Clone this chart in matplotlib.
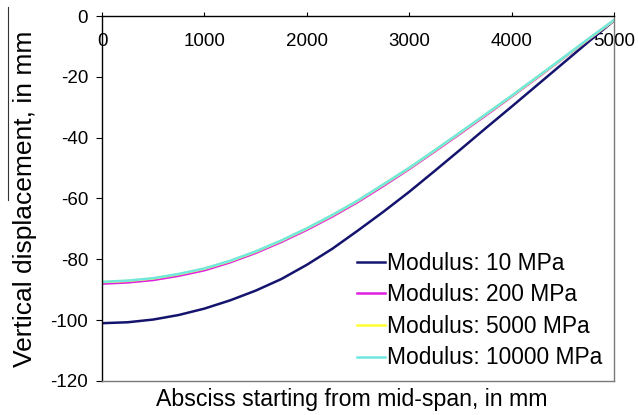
import matplotlib
matplotlib.use("Agg")
import matplotlib.pyplot as plt
from matplotlib.lines import Line2D

plt.rcParams["font.family"] = ["Liberation Sans", "DejaVu Sans"]

# abscissa from mid-span, mm
x_mm = [0, 250, 500, 750, 1000, 1250, 1500, 1750, 2000, 2250, 2500,
        2750, 3000, 3250, 3500, 3750, 4000, 4250, 4500, 4750, 5000]

# vertical displacement, mm
disp_10 = [-101.0, -100.7, -99.8, -98.3, -96.2, -93.5, -90.3, -86.5, -81.8, -76.5, -70.5,
           -64.3, -57.8, -50.9, -43.9, -36.8, -29.8, -22.7, -15.6, -8.5, -1.5]
disp_200 = [-88.0, -87.6, -86.8, -85.4, -83.6, -81.0, -77.9, -74.3, -70.3, -65.9, -61.1,
            -55.8, -50.3, -44.5, -38.6, -32.6, -26.5, -20.3, -14.0, -7.7, -1.5]
disp_5000 = [-87.5, -87.1, -86.3, -84.9, -83.1, -80.6, -77.5, -73.9, -69.9, -65.5, -60.7,
             -55.4, -50.0, -44.2, -38.3, -32.3, -26.3, -20.1, -13.9, -7.6, -1.4]
disp_10000 = [-87.4, -87.0, -86.2, -84.8, -83.0, -80.5, -77.4, -73.8, -69.8, -65.4, -60.6,
              -55.3, -49.9, -44.1, -38.2, -32.2, -26.2, -20.0, -13.8, -7.5, -1.3]

labels = ["Modulus: 10 MPa", "Modulus: 200 MPa", "Modulus: 5000 MPa", "Modulus: 10000 MPa"]
colors = ["#14146e", "#e020e0", "#ffff30", "#70e8e0"]
series = [disp_10, disp_200, disp_5000, disp_10000]

xticks = [0, 1000, 2000, 3000, 4000, 5000]
yticks = [0, -20, -40, -60, -80, -100, -120]

fig = plt.figure(figsize=(6.38, 4.15), dpi=100)
ax = fig.add_axes([0.16, 0.082, 0.8024, 0.8794])

for ys, c, lab in zip(series, colors, labels):
    ax.plot(x_mm, ys, color=c, linewidth=1.8, label=lab)

ax.set_xlim(0, 5000)
ax.set_ylim(-120, 0)

# x axis sits on y = 0 (top), labels drawn just under the line
ax.set_xticks(xticks)
ax.set_xticklabels([str(v) for v in xticks])
ax.tick_params(axis="x", top=True, bottom=False, labeltop=True, labelbottom=False,
               direction="out", length=3, width=0.8, pad=-15, labelsize=13.5)
for lbl in ax.get_xticklabels():
    lbl.set_va("top")

ax.set_yticks(yticks)
ax.set_yticklabels([str(v) for v in yticks])
ax.tick_params(axis="y", direction="out", length=4, width=0.8, pad=6, labelsize=13.5)

ax.spines["top"].set_color("black")
ax.spines["left"].set_color("black")
ax.spines["right"].set_color("#7a7a7a")
ax.spines["bottom"].set_color("#7a7a7a")
for s in ax.spines.values():
    s.set_linewidth(1.0)

ax.set_ylabel("Vertical displacement, in mm", fontsize=19)
ax.yaxis.set_label_coords(-0.128, 0.5)
ax.set_xlabel("Absciss starting from mid-span, in mm", fontsize=16.7)
ax.xaxis.set_label_coords(0.488, -0.018)

ax.legend(loc="lower right", bbox_to_anchor=(1.003, -0.006), frameon=False, fontsize=16.4,
          handlelength=1.25, handletextpad=0.05, labelspacing=0.38, borderaxespad=0.2)

# thin stray rule at the very left edge of the scanned figure
fig.add_artist(Line2D([0.0125, 0.0125], [0.983, 0.518], color="#333333", linewidth=0.8,
                      transform=fig.transFigure))

fig.savefig("out.png", dpi=100)
